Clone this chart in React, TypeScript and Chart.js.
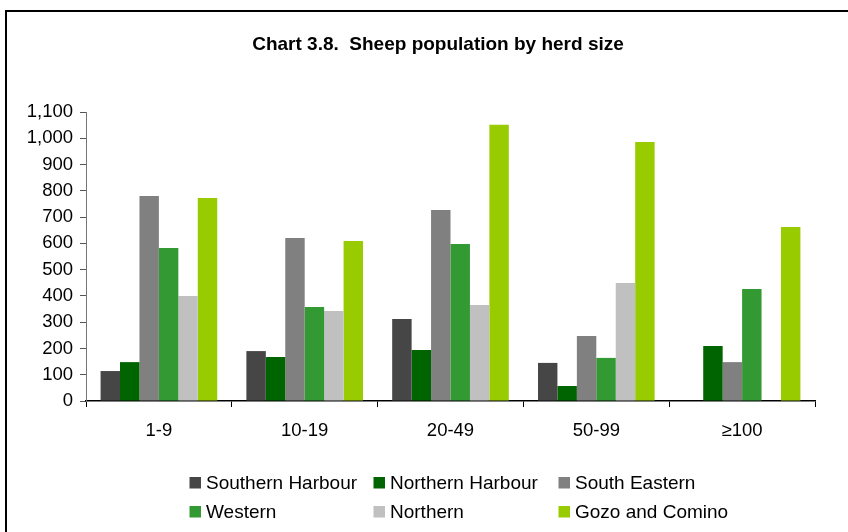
import React, { useEffect, useRef } from "react";
import { Chart, registerables } from "chart.js";

Chart.register(...registerables);

const categories = ["1-9", "10-19", "20-49", "50-99", "\u2265100"];
const seriesNames = ["Southern Harbour", "Northern Harbour", "South Eastern", "Western", "Northern", "Gozo and Comino"];
const southernHarbour = [114, 190, 312, 145, null];
const northernHarbour = [148, 167, 194, 57, 209];
const southEastern = [780, 620, 727, 247, 148];
const western = [582, 358, 598, 164, 426];
const northern = [400, 343, 365, 449, null];
const gozoComino = [773, 609, 1051, 986, 662];
const seriesColors = ["#464646", "#006400", "#808080", "#339933", "#C0C0C0", "#99CC00"];
const titleText = "Chart 3.8.  Sheep population by herd size";
const yMax = 1100;
const yStep = 100;

const FONT = "'Liberation Sans', Arial, sans-serif";

const decorPlugin = {
  id: "decor",
  afterDraw(chart: any) {
    const ctx = chart.ctx;
    ctx.save();
    // frame
    ctx.strokeStyle = "#000";
    ctx.lineWidth = 2;
    ctx.strokeRect(6, 11, 900, 600);
    // title
    ctx.fillStyle = "#000";
    ctx.font = `bold 19px ${FONT}`;
    ctx.textAlign = "center";
    ctx.textBaseline = "alphabetic";
    ctx.fillText(titleText, 438, 50);
    // legend (3 columns x 2 rows)
    const colX = [189.5, 373.5, 558.5];
    const rowY = [477, 506];
    ctx.font = `19px ${FONT}`;
    ctx.textAlign = "left";
    chart.data.datasets.forEach((ds: any, i: number) => {
      const c = i % 3;
      const r = Math.floor(i / 3);
      const x = colX[c];
      const y = rowY[r];
      ctx.fillStyle = ds.backgroundColor;
      ctx.fillRect(x, y, 11.5, 11.5);
      ctx.fillStyle = "#000";
      ctx.fillText(ds.label, x + 16.5, y + 12);
    });
    ctx.restore();
  },
};

export default function App() {
  const ref = useRef<HTMLCanvasElement | null>(null);
  useEffect(() => {
    if (!ref.current) return;
    const values = [southernHarbour, northernHarbour, southEastern, western, northern, gozoComino];
    const chart = new Chart(ref.current, {
      type: "bar",
      data: {
        labels: categories,
        datasets: seriesNames.map((name, i) => ({
          label: name,
          data: values[i] as any,
          backgroundColor: seriesColors[i],
          borderWidth: 0,
          categoryPercentage: 0.8,
          barPercentage: 1.0,
        })),
      },
      options: {
        responsive: false,
        animation: false,
        layout: { padding: { top: 112, left: 0, right: 33, bottom: 0 } },
        plugins: {
          legend: { display: false },
          title: { display: false },
          tooltip: { enabled: false },
        },
        scales: {
          x: {
            grid: {
              display: true,
              drawOnChartArea: false,
              drawTicks: true,
              tickLength: 6,
              tickColor: "#000",
              offset: true,
            },
            border: { display: true, color: "#000", width: 1.5 },
            ticks: {
              color: "#000",
              font: { family: FONT, size: 18.5 },
              padding: 13,
              maxRotation: 0,
            },
            afterFit(scale: any) {
              scale.height = 131;
            },
          },
          y: {
            min: 0,
            max: yMax,
            grid: {
              display: true,
              drawOnChartArea: false,
              drawTicks: true,
              tickLength: 6,
              tickColor: "#555",
            },
            border: { display: true, color: "#777", width: 1 },
            ticks: {
              stepSize: yStep,
              color: "#000",
              font: { family: FONT, size: 18.5 },
              padding: 7,
              callback: (v: any) => Number(v).toLocaleString("en-US"),
            },
            afterFit(scale: any) {
              scale.width = 86;
            },
          },
        },
      },
      plugins: [decorPlugin],
    });
    return () => chart.destroy();
  }, []);
  return (
    <div style={{ position: "absolute", left: 0, top: 0, width: 848, height: 532, background: "#fff" }}>
      <canvas ref={ref} width={848} height={532} style={{ display: "block" }} />
    </div>
  );
}
